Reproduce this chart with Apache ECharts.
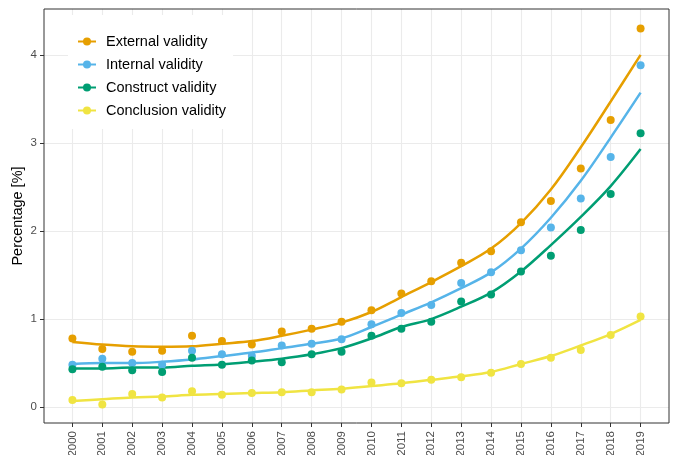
<!DOCTYPE html>
<html>
<head>
<meta charset="utf-8">
<script src="https://cdn.jsdelivr.net/npm/echarts@6/dist/echarts.min.js"></script>
<style>html,body{margin:0;padding:0;background:#fff}#c{width:676px;height:455px}</style>
</head>
<body>
<div id="c"></div>
<script>
var years = [2000,2001,2002,2003,2004,2005,2006,2007,2008,2009,2010,2011,2012,2013,2014,2015,2016,2017,2018,2019];
var yTicks = [0,1,2,3,4];
var seriesNames = ['External validity','Internal validity','Construct validity','Conclusion validity'];
var seriesColors = ['#E69F00','#56B4E9','#009E73','#F0E442'];

// observed points
var externalPts   = [0.78,0.66,0.63,0.64,0.81,0.75,0.71,0.86,0.89,0.97,1.10,1.29,1.43,1.64,1.77,2.10,2.34,2.71,3.26,4.30];
var internalPts   = [0.48,0.55,0.50,0.48,0.64,0.60,0.58,0.70,0.72,0.77,0.94,1.07,1.16,1.41,1.53,1.78,2.04,2.37,2.84,3.88];
var constructPts  = [0.43,0.46,0.42,0.40,0.56,0.48,0.53,0.51,0.60,0.63,0.81,0.89,0.97,1.20,1.28,1.54,1.72,2.01,2.42,3.11];
var conclusionPts = [0.08,0.03,0.15,0.11,0.18,0.14,0.16,0.17,0.17,0.20,0.28,0.27,0.31,0.34,0.39,0.49,0.56,0.65,0.82,1.03];

// fitted (smoothed) curves
var externalFit   = [0.74,0.71,0.69,0.685,0.69,0.72,0.75,0.81,0.88,0.96,1.08,1.25,1.42,1.60,1.80,2.09,2.47,2.95,3.47,4.00];
var internalFit   = [0.49,0.50,0.50,0.515,0.54,0.58,0.62,0.67,0.72,0.78,0.91,1.05,1.19,1.35,1.53,1.80,2.15,2.57,3.06,3.57];
var constructFit  = [0.44,0.44,0.45,0.45,0.47,0.485,0.515,0.55,0.60,0.67,0.78,0.91,1.00,1.14,1.30,1.54,1.84,2.16,2.51,2.93];
var conclusionFit = [0.07,0.09,0.11,0.12,0.14,0.15,0.16,0.17,0.19,0.21,0.24,0.27,0.31,0.35,0.40,0.49,0.58,0.70,0.83,0.99];

var ptsAll = [externalPts, internalPts, constructPts, conclusionPts];
var fitAll = [externalFit, internalFit, constructFit, conclusionFit];

function pairs(arr){ return years.map(function(y,i){ return [y, arr[i]]; }); }

var FONT = '"Liberation Sans", Arial, sans-serif';
var series = [];
// gridlines
series.push({
  type: 'line', data: [], silent: true, z: 0,
  markLine: {
    silent: true, symbol: ['none','none'], animation: false, z: 0,
    label: {show: false},
    lineStyle: {color: '#EBEBEB', type: 'solid', width: 1.1},
    emphasis: {disabled: true},
    data: years.map(function(y){ return {xAxis: y}; }).concat(yTicks.map(function(v){ return {yAxis: v}; }))
  }
});
fitAll.forEach(function(arr, i){
  series.push({
    name: seriesNames[i], type: 'line', data: pairs(arr), smooth: 0.35,
    symbol: 'circle', symbolSize: 8, showSymbol: false, z: 2,
    lineStyle: {color: seriesColors[i], width: 2.5},
    itemStyle: {color: seriesColors[i]},
    emphasis: {disabled: true}
  });
});
ptsAll.forEach(function(arr, i){
  series.push({
    name: seriesNames[i], type: 'scatter', data: pairs(arr),
    symbol: 'circle', symbolSize: 8, z: 3,
    itemStyle: {color: seriesColors[i], opacity: 1},
    emphasis: {disabled: true}
  });
});

var chart = echarts.init(document.getElementById('c'), null, {renderer: 'canvas'});
chart.setOption({
  animation: false,
  backgroundColor: '#fff',
  textStyle: {fontFamily: FONT},
  grid: {left: 44, right: 7, top: 9, bottom: 32, containLabel: false, outerBoundsMode: 'none', show: true,
         borderColor: '#333333', borderWidth: 1, backgroundColor: 'transparent', z: 6},
  legend: {
    data: seriesNames, orient: 'vertical', left: 68, top: 15,
    padding: [19, 7, 11, 9], backgroundColor: '#ffffff',
    itemWidth: 18, itemHeight: 10, itemGap: 8,
    textStyle: {fontSize: 14.5, color: '#000', fontFamily: FONT, padding: [0, 0, 0, 5]},
    selectedMode: false, z: 4
  },
  xAxis: {
    type: 'value', min: 1999.05, max: 2019.95,
    axisLine: {show: false, onZero: false},
    splitLine: {show: false},
    axisTick: {show: true, length: 4, lineStyle: {color: '#333333'}, customValues: years},
    axisLabel: {show: true, rotate: 90, margin: 8, fontSize: 11.5, color: '#4D4D4D', fontFamily: FONT,
                customValues: years, formatter: function(v){ return String(v); }}
  },
  yAxis: {
    type: 'value', min: -0.18, max: 4.52,
    name: 'Percentage [%]', nameLocation: 'middle', nameGap: 19, nameRotate: 90, nameMoveOverlap: false,
    nameTextStyle: {fontSize: 14.5, color: '#000', fontFamily: FONT},
    axisLine: {show: false, onZero: false},
    splitLine: {show: false},
    axisTick: {show: true, length: 4, lineStyle: {color: '#333333'}, customValues: yTicks},
    axisLabel: {show: true, margin: 7, fontSize: 11.5, color: '#4D4D4D', fontFamily: FONT,
                customValues: yTicks, formatter: function(v){ return String(v); }}
  },
  series: series
});
</script>
</body>
</html>
